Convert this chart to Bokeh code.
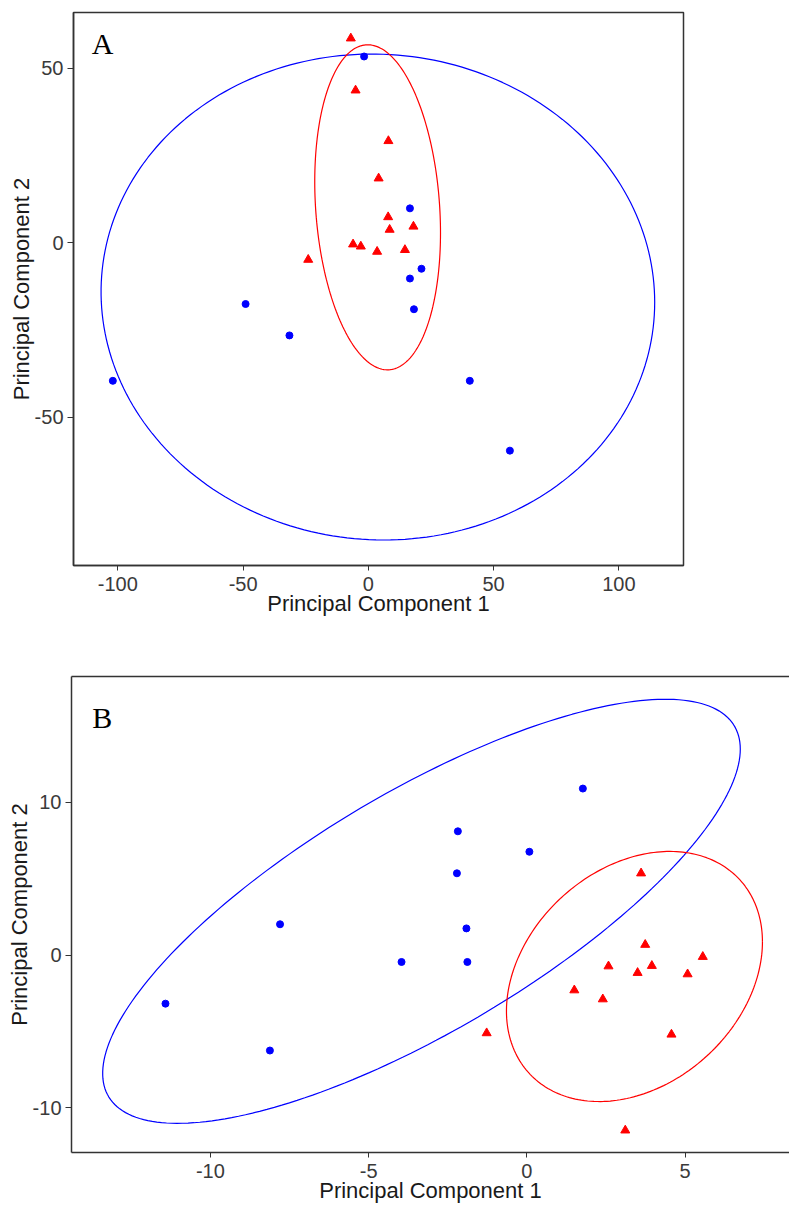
import numpy as np
from bokeh.plotting import figure
from bokeh.models import Range1d, FixedTicker, LinearAxis, Label
from bokeh.embed import file_html
from bokeh.resources import INLINE

# ---------------- data ----------------
# Panel A
a_blue_x = [-1.7, 16.6, 16.6, 21.2, 18.2, -49.0, -31.5, -102.0, 40.5, 56.5]
a_blue_y = [53.4, 9.9, -10.2, -7.4, -19.0, -17.5, -26.5, -39.5, -39.5, -59.5]
a_red_x = [-7.0, -5.1, 8.0, 4.1, 7.9, 8.5, 18.0, -6.1, -3.0, 3.5, 14.6, -24.0]
a_red_y = [58.6, 43.7, 29.2, 18.5, 7.4, 3.8, 4.7, -0.4, -1.0, -2.5, -2.0, -4.8]
# ellipse: centre and 2x2 shape matrix [sxx, syy, sxy]
a_blue_ell_center = [3.8, -15.5]
a_blue_ell_shape = [12210.0, 4844.0, -165.0]
a_red_ell_center = [3.7, 10.2]
a_red_ell_shape = [630.0, 2167.0, -184.0]
a_xticks = [-100, -50, 0, 50, 100]
a_yticks = [-50, 0, 50]

# Panel B
b_blue_x = [-11.42, -8.12, -7.80, -3.96, -2.18, -2.21, -1.91, -1.88, 0.08, 1.77]
b_blue_y = [-3.18, -6.25, 2.02, -0.45, 8.11, 5.36, 1.75, -0.45, 6.77, 10.91]
b_red_x = [3.61, 3.74, 2.58, 3.50, 3.95, 5.56, 5.08, 1.50, 2.40, -1.27, 4.57, 3.11]
b_red_y = [5.36, 0.68, -0.73, -1.16, -0.70, -0.11, -1.25, -2.30, -2.89, -5.11, -5.20, -11.48]
b_blue_ell_center = [-3.33, 2.87]
b_blue_ell_shape = [101.5, 192.9, 107.0]
b_red_ell_center = [3.4, -1.4]
b_red_ell_shape = [16.36, 67.1, 9.17]
b_xticks = [-10, -5, 0, 5]
b_yticks = [-10, 0, 10]

x_title = "Principal Component 1"
y_title = "Principal Component 2"

BLUE = "#0000FF"
RED = "#FF0000"
SANS = "Liberation Sans"


def ellipse_xy(center, shape, n=240):
    sxx, syy, sxy = shape
    L = np.linalg.cholesky(np.array([[sxx, sxy], [sxy, syy]]))
    t = np.linspace(0, 2 * np.pi, n)
    u = np.vstack([np.cos(t), np.sin(t)])
    pts = L @ u
    return (center[0] + pts[0]).tolist(), (center[1] + pts[1]).tolist()


def style_axis(ax, ticks, is_x):
    ax.ticker = FixedTicker(ticks=ticks)
    ax.major_label_overrides = {t: str(t) for t in ticks}
    ax.major_label_text_font = SANS
    ax.major_label_text_font_size = "20px"
    ax.major_label_text_color = "#3A3A3A"
    ax.axis_label_text_font = SANS
    ax.axis_label_text_font_size = "22px"
    ax.axis_label_text_font_style = "normal"
    ax.axis_label_text_color = "#1A1A1A"
    ax.major_tick_in = 0
    ax.minor_tick_line_color = None
    ax.major_tick_line_color = "#333333"
    ax.axis_line_color = "#333333"
    ax.axis_line_width = 1.5
    if is_x:
        ax.major_tick_out = 5
        ax.major_label_standoff = 6
        ax.axis_label_standoff = -3
    else:
        ax.major_tick_out = 6
        ax.major_label_standoff = 4
        ax.axis_label_standoff = -2


def make_panel(width, height, borders, xr, yr, bx, by, rx, ry,
               bc, bs, rc, rs, xt, yt, letter, letter_pos, full_box):
    p = figure(width=width, height=height, output_backend="svg",
               toolbar_location=None,
               x_range=Range1d(*xr), y_range=Range1d(*yr),
               min_border_left=borders[0], min_border_right=borders[1],
               min_border_top=borders[2], min_border_bottom=borders[3],
               x_axis_label=x_title, y_axis_label=y_title)
    p.xgrid.visible = False
    p.ygrid.visible = False
    p.background_fill_color = "white"
    p.border_fill_color = "white"
    style_axis(p.xaxis[0], xt, True)
    style_axis(p.yaxis[0], yt, False)
    if full_box:
        p.outline_line_color = "#333333"
        p.outline_line_width = 1.5
    else:
        p.outline_line_color = None
        top = LinearAxis(ticker=FixedTicker(ticks=[]),
                         major_label_text_font_size="0px",
                         axis_line_color="#333333", axis_line_width=1.5,
                         major_tick_line_color=None, minor_tick_line_color=None)
        p.add_layout(top, "above")

    ex, ey = ellipse_xy(bc, bs)
    p.line(ex, ey, line_color=BLUE, line_width=1.2)
    ex, ey = ellipse_xy(rc, rs)
    p.line(ex, ey, line_color=RED, line_width=1.2)

    p.scatter(bx, by, marker="circle", size=7, fill_color=BLUE, line_color=BLUE)
    p.scatter(rx, ry, marker="triangle", size=9, fill_color=RED, line_color=RED)

    lx = xr[0] + letter_pos[0] * (xr[1] - xr[0])
    ly = yr[0] + letter_pos[1] * (yr[1] - yr[0])
    p.add_layout(Label(x=lx, y=ly, text=letter, text_font="Liberation Serif",
                       text_font_size="30px", text_color="black",
                       text_baseline="alphabetic", text_align="left"))
    return p


pA = make_panel(789, 640, (73, 106, 12, 75), (-117.7, 125.8), (-92.4, 66.0),
                a_blue_x, a_blue_y, a_red_x, a_red_y,
                a_blue_ell_center, a_blue_ell_shape,
                a_red_ell_center, a_red_ell_shape,
                a_xticks, a_yticks, "A", (0.030, 0.944), True)

pB = make_panel(789, 565, (71, 0, 36, 53), (-14.39, 8.30), (-12.93, 18.25),
                b_blue_x, b_blue_y, b_red_x, b_red_y,
                b_blue_ell_center, b_blue_ell_shape,
                b_red_ell_center, b_red_ell_shape,
                b_xticks, b_yticks, "B", (0.029, 0.914), False)

open("out.html", "w").write(file_html([pA, pB], INLINE))
